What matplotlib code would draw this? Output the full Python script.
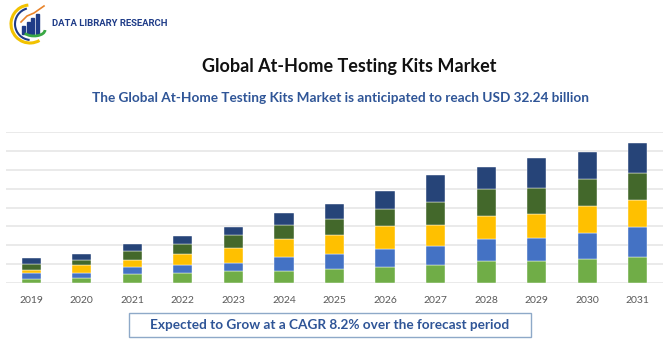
import matplotlib.pyplot as plt
from matplotlib.patches import Arc, Rectangle
import numpy as np

years = ['2019', '2020', '2021', '2022', '2023', '2024', '2025',
         '2026', '2027', '2028', '2029', '2030', '2031']

# segment values, bottom to top (gridline units)
seg_green = [0.23, 0.30, 0.49, 0.54, 0.63, 0.65, 0.77, 0.88, 0.98, 1.16, 1.18, 1.28, 1.39]
seg_blue = [0.30, 0.26, 0.35, 0.40, 0.44, 0.72, 0.79, 0.95, 0.98, 1.20, 1.23, 1.37, 1.60]
seg_yellow = [0.19, 0.40, 0.40, 0.62, 0.81, 0.97, 1.00, 1.21, 1.12, 1.21, 1.25, 1.44, 1.41]
seg_dkgreen = [0.32, 0.28, 0.49, 0.54, 0.67, 0.72, 0.83, 0.90, 1.20, 1.39, 1.39, 1.41, 1.41]
seg_navy = [0.30, 0.28, 0.35, 0.42, 0.42, 0.67, 0.77, 0.95, 1.41, 1.18, 1.55, 1.41, 1.58]

series = [seg_green, seg_blue, seg_yellow, seg_dkgreen, seg_navy]
colors = ['#70AD47', '#4472C4', '#FFC000', '#43682B', '#264478']

plt.rcParams['font.family'] = ['Lato', 'DejaVu Sans']

fig = plt.figure(figsize=(6.7, 3.5), dpi=100)
ax = fig.add_axes([6 / 670, 66.7 / 350, 657 / 670, 151.6 / 350])

x = np.arange(len(years))
bottom = np.zeros(len(years))
for vals, c in zip(series, colors):
    ax.bar(x, vals, 0.38, bottom=bottom, color=c, edgecolor='#ffffff',
           linewidth=0.3, zorder=3)
    bottom += np.array(vals)

ax.set_xlim(-0.5, len(years) - 0.5)
ax.set_ylim(0, 8)
ax.set_yticks(np.arange(0, 9, 1))
ax.yaxis.grid(True, color='#e6e6e6', linewidth=1.2, zorder=0)
ax.tick_params(left=False, bottom=False, labelleft=False)
ax.set_xticks(x)
ax.set_xticklabels(years, fontsize=7.5, color='#595959')
ax.tick_params(axis='x', pad=6)
for s in ax.spines.values():
    s.set_visible(False)

fig.text(0.522, 0.81, 'Global At-Home Testing Kits Market', ha='center', va='center',
         fontsize=13, fontweight='bold', color='#111111')
fig.text(0.508, 0.72, 'The Global At-Home Testing Kits Market is anticipated to reach USD 32.24 billion',
         ha='center', va='center', fontsize=9.8, fontweight='bold', color='#2F5597')

# bottom box
fig.patches.append(Rectangle((129 / 670, 13 / 350), 402 / 670, 24 / 350,
                             transform=fig.transFigure, fill=False,
                             edgecolor='#8EA9C8', linewidth=1))
fig.text(330 / 670, 25 / 350, 'Expected to Grow at a CAGR 8.2% over the forecast period',
         ha='center', va='center', fontsize=9.8, fontweight='bold', color='#2F5597')

# logo
lax = fig.add_axes([8 / 670, 304 / 350, 44 / 670, 44 / 350])
lax.set_xlim(0, 44)
lax.set_ylim(0, 44)
lax.set_aspect('equal')
lax.axis('off')
lax.add_patch(Arc((22, 22), 38, 38, theta1=95, theta2=300, color='#F2C200', lw=2.2))
lax.add_patch(Arc((23, 22), 32, 32, theta1=105, theta2=265, color='#1F3C88', lw=1.5))
for i, h in enumerate([8, 12, 16, 20]):
    lax.add_patch(Rectangle((14 + i * 4.5, 12), 3.2, h, color='#1F3C88'))
lax.plot([13, 19, 26, 36], [24, 30, 33, 40], color='#E8832A', lw=1.2)
lax.add_patch(Arc((26, 16), 22, 12, theta1=200, theta2=360, color='#3AA845', lw=2))
fig.text(52 / 670, 326 / 350, 'DATA LIBRARY RESEARCH', ha='left', va='center',
         fontsize=6.8, fontweight='bold', color='#1F3C88', family=['Roboto', 'DejaVu Sans'])

fig.savefig('out.png', dpi=100)
